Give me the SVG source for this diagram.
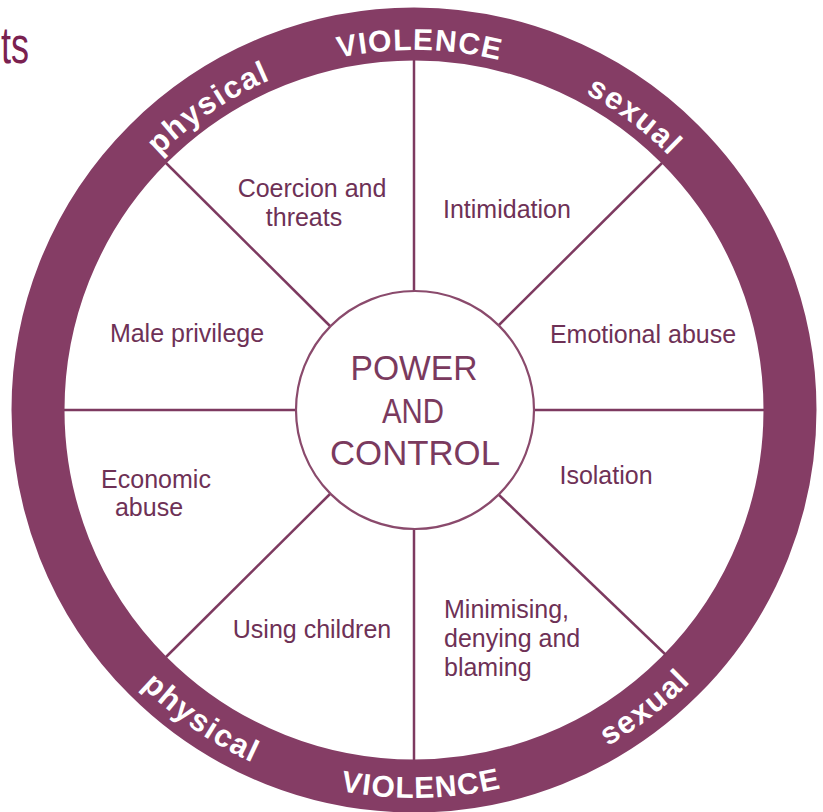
<svg xmlns="http://www.w3.org/2000/svg" width="823" height="812" viewBox="0 0 823 812">
  <style>
    .ring { fill: none; stroke: #853d65; stroke-width: 53; }
    .spoke { stroke: #7d3a60; stroke-width: 2.5; fill: none; }
    .hub { fill: #ffffff; stroke: #8a4a6c; stroke-width: 2.2; }
    .lbl { font-family: "Liberation Sans", Arial, sans-serif; font-size: 25px; fill: #6e3156; }
    .mid { text-anchor: middle; }
    .hubtxt { font-family: "Liberation Sans", Arial, sans-serif; font-size: 35px; fill: #7a3a5e; text-anchor: middle; }
    .rtxt { font-family: "Liberation Sans", Arial, sans-serif; font-size: 30px; font-weight: bold; fill: #ffffff; letter-spacing: 1.2px; text-anchor: middle; }
    .rlow { font-size: 31px; letter-spacing: 1.6px; }
    .head { font-family: "Liberation Sans", Arial, sans-serif; font-size: 52px; fill: #7a2150; }
  </style>
  <defs>
    <path id="topArc" d="M 54 410 A 360 360 0 0 1 774 410"/>
    <path id="botArc" d="M 26 410 A 388 388 0 0 0 802 410"/>
  </defs>
  <rect x="0" y="0" width="823" height="812" fill="#ffffff"/>

  <text class="head" x="1" y="63" textLength="28" lengthAdjust="spacingAndGlyphs">ts</text>

  <g id="ring">
    <circle class="ring" cx="414" cy="410" r="376"/>
    <text class="rtxt"><textPath href="#topArc" startOffset="50.5%">VIOLENCE</textPath></text>
    <text class="rtxt rlow"><textPath href="#topArc" startOffset="31%">physical</textPath></text>
    <text class="rtxt rlow"><textPath href="#topArc" startOffset="70.5%">sexual</textPath></text>
    <text class="rtxt"><textPath href="#botArc" startOffset="50.6%">VIOLENCE</textPath></text>
    <text class="rtxt rlow"><textPath href="#botArc" startOffset="30.8%">physical</textPath></text>
    <text class="rtxt rlow"><textPath href="#botArc" startOffset="71%">sexual</textPath></text>
  </g>

  <g id="connectors">
    <line class="spoke" x1="414" y1="291" x2="414" y2="60"/>
    <line class="spoke" x1="414" y1="529" x2="414" y2="760"/>
    <line class="spoke" x1="295" y1="410" x2="64" y2="410"/>
    <line class="spoke" x1="533" y1="410" x2="764" y2="410"/>
    <line class="spoke" x1="330" y1="326" x2="166" y2="163"/>
    <line class="spoke" x1="498" y1="326" x2="662" y2="163"/>
    <line class="spoke" x1="330" y1="494" x2="166" y2="657"/>
    <line class="spoke" x1="498" y1="494" x2="666" y2="655"/>
  </g>

  <g id="hub">
    <circle class="hub" cx="415" cy="410" r="119"/>
    <text class="hubtxt" x="414" y="380" textLength="127" lengthAdjust="spacingAndGlyphs">POWER</text>
    <text class="hubtxt" x="413" y="423" textLength="62" lengthAdjust="spacingAndGlyphs">AND</text>
    <text class="hubtxt" x="415" y="465" textLength="170" lengthAdjust="spacingAndGlyphs">CONTROL</text>
  </g>

  <g id="coercion">
    <text class="lbl mid" x="312" y="197">Coercion and</text>
    <text class="lbl mid" x="304" y="226">threats</text>
  </g>
  <g id="intimidation">
    <text class="lbl" x="443" y="218">Intimidation</text>
  </g>
  <g id="male-privilege">
    <text class="lbl mid" x="187" y="342">Male privilege</text>
  </g>
  <g id="emotional-abuse">
    <text class="lbl mid" x="643" y="343">Emotional abuse</text>
  </g>
  <g id="economic-abuse">
    <text class="lbl mid" x="156" y="488">Economic</text>
    <text class="lbl mid" x="149" y="516">abuse</text>
  </g>
  <g id="isolation">
    <text class="lbl mid" x="606" y="484">Isolation</text>
  </g>
  <g id="using-children">
    <text class="lbl mid" x="312" y="638">Using children</text>
  </g>
  <g id="minimising">
    <text class="lbl" x="444" y="618">Minimising,</text>
    <text class="lbl" x="444" y="647">denying and</text>
    <text class="lbl" x="444" y="676">blaming</text>
  </g>
</svg>
